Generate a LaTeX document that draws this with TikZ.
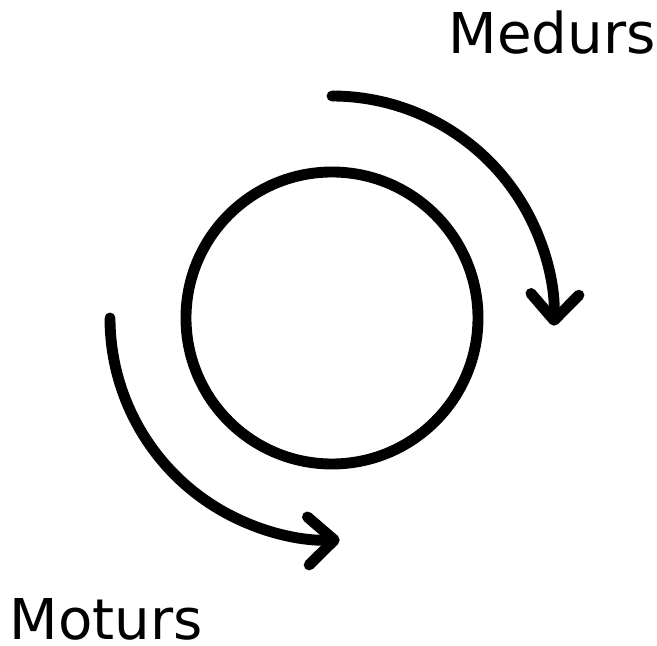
\documentclass[tikz,border=0pt]{standalone}
\usepackage{fontspec}
\setmainfont{DejaVu Sans}
\usetikzlibrary{arrows.meta}

\tikzset{
  turn/.style={line width=3.1pt, line cap=round,
    -{Straight Barb[length=2.6mm, width=4.8mm, line cap=round, line join=round]}},
  word/.style={anchor=base west, inner sep=0pt, font=\fontsize{16}{18}\selectfont}
}

\begin{document}
\begin{tikzpicture}
    \useasboundingbox (0,0) rectangle (6.57,6.46);

    \node[draw, circle, line width=3.1pt, minimum size=2.92cm, inner sep=0pt] (disc) at (3.32,3.28) {};

    \coordinate (medstart) at ([shift={(90:2.22)}]disc.center);
    \coordinate (motstart) at ([shift={(180:2.22)}]disc.center);

    \draw[turn] (medstart) arc[start angle=90, end angle=-2, radius=2.22];
    \draw[turn] (motstart) arc[start angle=180, end angle=272, radius=2.22];

    \node[word] (medurs) at (4.48,5.93) {Medurs};
    \node[word] (moturs) at (0.09,0.06) {Moturs};
\end{tikzpicture}
\end{document}
